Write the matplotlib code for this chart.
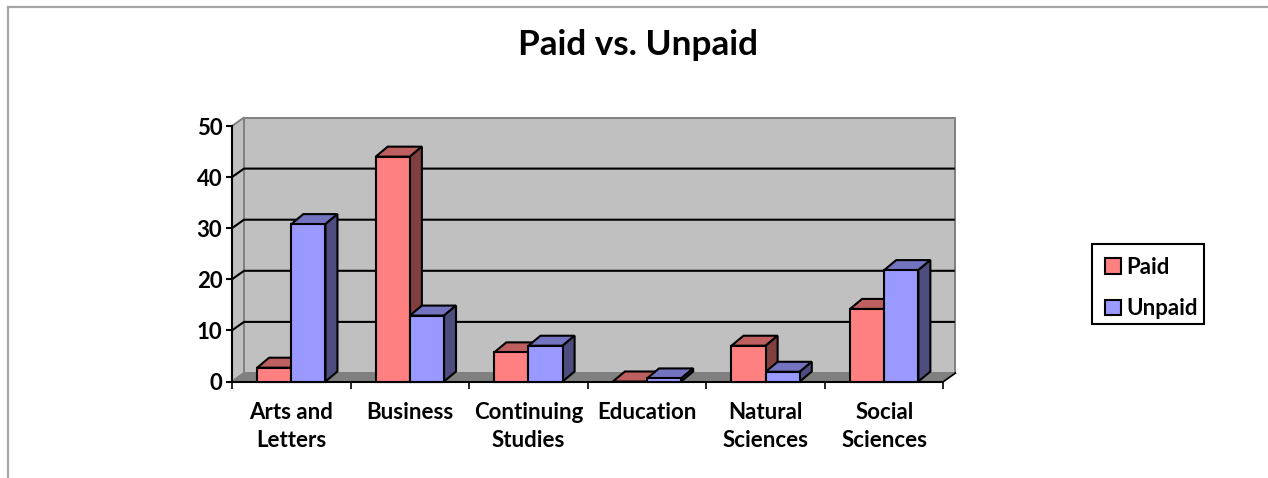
import numpy as np
import matplotlib
matplotlib.use('Agg')
import matplotlib.pyplot as plt
from matplotlib.patches import Polygon, Patch, Rectangle
from matplotlib.lines import Line2D

categories = ['Arts and\nLetters', 'Business', 'Continuing\nStudies', 'Education', 'Natural\nSciences', 'Social\nSciences']
paid = [2.7, 44, 5.7, 0, 7, 14.2]
unpaid = [30.8, 12.9, 7, 0.6, 1.9, 21.8]
yticks = [0, 10, 20, 30, 40, 50]

W, H = 1268, 478
x0, x1 = 232.0, 943.5
y0, y1 = 381.5, 126.0
# depth of the fake 3D, converted from pixels to data units
ddx = 12.0 / ((x1 - x0) / 6)
wall_ddy = 8.5 / ((y0 - y1) / 50)
bar_ddy = 10.0 / ((y0 - y1) / 50)
barw = 0.288

plt.rcParams['font.family'] = ['Lato', 'DejaVu Sans']
plt.rcParams['font.weight'] = 'bold'


def draw_bar(ax, left, value, front, top, side):
  right = left + barw
  ax.add_patch(Polygon([(left, value), (left + ddx, value + bar_ddy), (right + ddx, value + bar_ddy), (right, value)],
                       fc=top, ec='k', lw=1.5, clip_on=False, zorder=3, joinstyle='miter'))
  ax.add_patch(Polygon([(right, 0), (right + ddx, bar_ddy), (right + ddx, value + bar_ddy), (right, value)],
                       fc=side, ec='k', lw=1.5, clip_on=False, zorder=3, joinstyle='miter'))
  if value > 0:
    ax.bar(left, value, barw, align='edge', color=front, edgecolor='k', linewidth=1.5, clip_on=False, zorder=3)


def main():
  fig = plt.figure(figsize=(W / 100, H / 100), dpi=100)

  # grey frame of the slide, cut off at the right and the bottom
  fig.add_artist(Line2D([8 / W, 8 / W], [0, 1 - 7 / H], color='#a6a6a6', lw=1.6))
  fig.add_artist(Line2D([8 / W, 1], [1 - 7 / H, 1 - 7 / H], color='#a6a6a6', lw=1.6))

  ax = fig.add_axes([x0 / W, 1 - y0 / H, (x1 - x0) / W, (y0 - y1) / H])
  ax.set_xlim(0, 6)
  ax.set_ylim(0, 50)
  ax.patch.set_visible(False)

  # back wall, side wall and floor
  ax.add_patch(Polygon([(ddx, wall_ddy), (ddx, 50 + wall_ddy), (6 + ddx, 50 + wall_ddy), (6 + ddx, wall_ddy)],
                       fc='#c0c0c0', ec='#808080', lw=1.4, clip_on=False, zorder=0))
  ax.add_patch(Polygon([(0, 0), (0, 50), (ddx, 50 + wall_ddy), (ddx, wall_ddy)],
                       fc='#c0c0c0', ec='#808080', lw=1.4, clip_on=False, zorder=0))
  ax.add_patch(Polygon([(0, 0), (ddx, wall_ddy), (6 + ddx, wall_ddy), (6, 0)],
                       fc='#808080', ec='#808080', lw=1, clip_on=False, zorder=0.5))

  # gridlines run along the side wall and the back wall
  for t in yticks[1:-1]:
    ax.plot([0, ddx, 6 + ddx - 0.006], [t, t + wall_ddy, t + wall_ddy], color='k', lw=1.5, clip_on=False, zorder=1,
            solid_capstyle='butt')
  ax.plot([6, 6 + ddx], [0, wall_ddy], color='k', lw=1.2, clip_on=False, zorder=1)

  for i in range(len(categories)):
    draw_bar(ax, i + 0.5 - barw, paid[i], '#ff8080', '#bf6060', '#804040')
    draw_bar(ax, i + 0.5, unpaid[i], '#9999ff', '#7373bf', '#4d4d80')

  for s in ['top', 'right']:
    ax.spines[s].set_visible(False)
  for s in ['left', 'bottom']:
    ax.spines[s].set_linewidth(1.5)
    ax.spines[s].set_zorder(2)

  ax.set_yticks(yticks)
  ax.tick_params(axis='y', length=4, width=1.5, labelsize=16, pad=3)
  ax.set_xticks(np.arange(0, 7))
  ax.set_xticklabels([])
  ax.tick_params(axis='x', length=5, width=1.2)
  ax.set_xticks(np.arange(len(categories)) + 0.5, minor=True)
  ax.set_xticklabels(categories, minor=True, fontsize=16, linespacing=1.4)
  ax.tick_params(axis='x', which='minor', length=0, pad=15)

  fig.text(638.5 / W, 1 - 45 / H, 'Paid vs. Unpaid', ha='center', va='center', fontsize=25.3)

  # legend box is lopsided in the original, so the frame is drawn on its own
  fig.add_artist(Rectangle((1091.5 / W, 1 - 324 / H), 112 / W, 80 / H, transform=fig.transFigure,
                           fc='white', ec='k', lw=1.5))
  handles = [Patch(fc='#ff8080', ec='k', lw=1.5), Patch(fc='#9999ff', ec='k', lw=1.5)]
  fig.legend(handles, ['Paid', 'Unpaid'], loc='upper left', bbox_to_anchor=(1105 / W, 1 - 257 / H),
             fontsize=16, frameon=False, handlelength=0.7, handleheight=0.7, handletextpad=0.25,
             labelspacing=0.92, borderpad=0, borderaxespad=0)

  fig.savefig('out.png', dpi=100)


if __name__ == '__main__':
  main()
